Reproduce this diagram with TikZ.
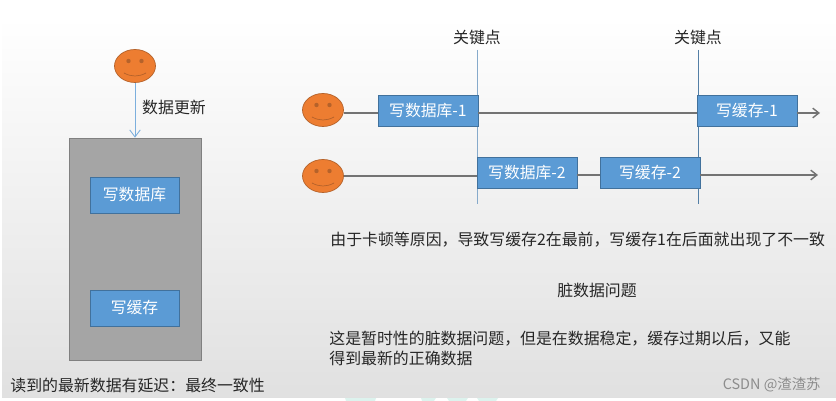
\documentclass[tikz,border=0pt]{standalone}
\usepackage{fontspec}
\setmainfont{Noto Sans CJK SC}
\usetikzlibrary{arrows.meta,calc,positioning,shapes.geometric}
\definecolor{facefill}{HTML}{ED7D31}
\definecolor{faceline}{HTML}{B5622A}
\definecolor{boxblue}{HTML}{5B9BD5}
\definecolor{boxline}{HTML}{41719C}
\definecolor{keyline}{HTML}{86AACB}
\definecolor{wallgray}{HTML}{A5A5A5}
\definecolor{tealmark}{HTML}{DDF3EE}
\tikzset{
  face/.style={ellipse,draw=faceline,fill=facefill,minimum width=0.82cm,minimum height=0.66cm,inner sep=0pt},
  writebox/.style={draw=boxline,fill=boxblue,text=white,font=\fontsize{9}{11}\selectfont,minimum height=0.62cm,inner sep=0pt},
  caption/.style={font=\fontsize{9.05}{11}\selectfont,text=black!85,inner sep=0pt},
  timeline/.style={draw=black!55,line width=0.8pt},
  keymark/.style={draw=keyline,line width=0.5pt}
}
% eyes and mouth of one smiley, on a named face node
\newcommand{\facedetails}[1]{
  \fill[faceline] ($(#1)+(-6.5,-5)$) circle (2.2);
  \fill[faceline] ($(#1)+(6.5,-5)$) circle (2.2);
  \draw[faceline,line width=0.4pt] ($(#1)+(-11,7)$) .. controls ($(#1)+(-4,11)$) and ($(#1)+(4,11)$) .. ($(#1)+(11,7)$);
}
\begin{document}
\begin{tikzpicture}[x=0.02cm,y=-0.02cm]
\useasboundingbox (0,0) rectangle (836,401);

% Background
\fill[white] (0,0) rectangle (836,401);
\fill[tealmark] (345,398) -- (376,398) -- (375,401) -- (346,401) -- cycle;
\fill[tealmark] (421,398) -- (436,398) -- (434,401) -- (422,401) -- cycle;
\fill[tealmark] (447,398) -- (468,398) -- (466,401) -- (449,401) -- cycle;
\fill[tealmark] (477,398) -- (498,398) -- (496,401) -- (479,401) -- cycle;
\shade[top color=white,bottom color=black!12] (2,17) rectangle (836,398);

% Left column
\node[face] (topface) at (135,66) {};
\facedetails{topface}
\node[draw=black!50,fill=wallgray,minimum width=2.64cm,minimum height=4.44cm,inner sep=0pt] (wall) at (135,249) {};
\node[writebox,minimum width=1.78cm,minimum height=0.72cm] (walldb) at (134.5,195) {写数据库};
\node[writebox,minimum width=1.78cm,minimum height=0.72cm] (wallcache) at (134.5,308) {写缓存};
\draw[-{Straight Barb[length=4pt,width=6pt]},draw=boxblue!80,line width=0.5pt] (topface) -- (wall);
\node[caption] (update) at (174,107) {数据更新};
\node[caption,anchor=west] (summary) at (10,385) {读到的最新数据有延迟：最终一致性};

% Key points
\node[caption] (keya) at (477,37) {关键点};
\node[caption] (keyb) at (698,37) {关键点};
\coordinate (keyaend) at (477,204);
\coordinate (keybend) at (698,204);
\draw[keymark] (477,50) -- (keyaend);
\draw[keymark,draw=boxline!90] (698,50) -- (keybend);

% Upper row
\node[face] (faceone) at (323,110) {};
\facedetails{faceone}
\node[writebox,minimum width=2cm] (dbone) at (428,110.5) {写数据库-1};
\node[writebox,minimum width=2cm] (cacheone) at (747,110.5) {写缓存-1};
\coordinate (endone) at (820,113);
\draw[timeline] (faceone.east |- 0,113) -- (dbone.west |- 0,113);
\draw[timeline] (dbone.east |- 0,113) -- (cacheone.west |- 0,113);
\draw[timeline,-{Straight Barb[length=3.5pt,width=5.5pt]}] (cacheone.east |- endone) -- (endone);

% Lower row
\node[face] (facetwo) at (323,176) {};
\facedetails{facetwo}
\node[writebox,minimum width=2cm] (dbtwo) at (527,172.5) {写数据库-2};
\node[writebox,minimum width=2cm] (cachetwo) at (650,172.5) {写缓存-2};
\coordinate (endtwo) at (818,175);
\draw[timeline] (facetwo.east) -- (dbtwo.west |- facetwo.east);
\draw[timeline] (dbtwo.east |- endtwo) -- (cachetwo.west |- endtwo);
\draw[timeline,-{Straight Barb[length=3.5pt,width=5.5pt]}] (cachetwo.east |- endtwo) -- (endtwo);

% Notes
\node[caption,anchor=west] (cause) at (330,240) {由于卡顿等原因，导致写缓存2在最前，写缓存1在后面就出现了不一致};
\node[caption] (dirty) at (597,290) {脏数据问题};
\node[caption,anchor=north west,align=left] (transient) at (329,331) {这是暂时性的脏数据问题，但是在数据稳定，缓存过期以后，又能\\得到最新的正确数据};
\node[font=\fontsize{8.2}{10}\selectfont,text=black!45,anchor=east,inner sep=0pt] (mark) at (821,385) {CSDN @渣渣苏};
\end{tikzpicture}
\end{document}
